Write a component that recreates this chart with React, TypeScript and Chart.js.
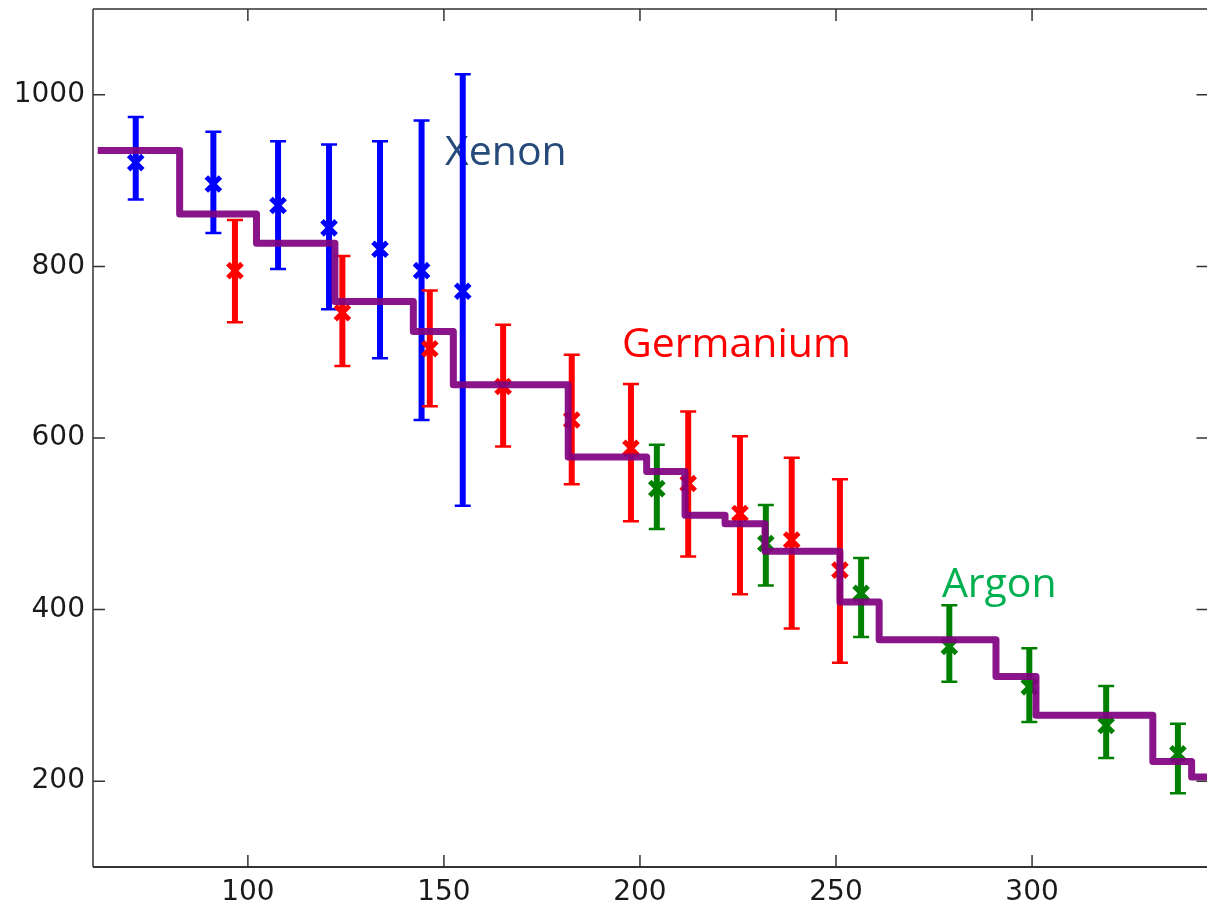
import React, { useEffect, useRef } from 'react';
import { Chart, registerables } from 'chart.js';

Chart.register(...registerables);

// Axis ticks
const xTickValues = [100, 150, 200, 250, 300];
const yTickValues = [200, 400, 600, 800, 1000];

// Xenon
const xenonX = [71.4, 91.2, 107.7, 120.7, 133.7, 144.3, 154.8];
const xenonY = [921, 896, 871, 845, 820, 795, 771];
const xenonLow = [878, 839, 797, 750, 693, 621, 521];
const xenonHigh = [974, 957, 946, 942, 946, 970, 1024];

// Germanium
const germaniumX = [96.7, 124.1, 146.4, 165.1, 182.6, 197.7, 212.3, 225.5, 238.7, 251.0];
const germaniumY = [795, 746, 704, 660, 621, 588, 547, 512, 481, 446];
const germaniumLow = [735, 684, 637, 590, 546, 503, 462, 418, 378, 338];
const germaniumHigh = [854, 812, 772, 732, 697, 663, 631, 602, 577, 552];

// Argon
const argonX = [204.3, 232.1, 256.4, 278.9, 299.3, 318.9, 337.2];
const argonY = [541, 477, 419, 357, 310, 265, 232];
const argonLow = [494, 428, 368, 316, 269, 227, 186];
const argonHigh = [592, 522, 460, 405, 355, 311, 267];

// Step curve: left edge of each level, and the level
const stepEdges = [61.7, 82.6, 102.2, 122.2, 142.2, 152.4, 181.7, 201.7, 211.5, 221.7, 231.9, 251.0, 261.0, 290.8, 301.0, 330.8, 340.7, 345];
const stepLevels = [935, 861, 827, 759, 724, 662, 578, 561, 510, 500, 468, 409, 365, 322, 277, 223, 205, 205];

// Annotations
const noteTexts = ['Xenon', 'Germanium', 'Argon'];
const noteX = [150.3, 195.4, 277.0];
const noteY = [918, 694, 414.6];
const noteColors = ['#264B7A', '#FF0000', '#00B050'];

const BLUE = '#0000FF';
const RED = '#FF0000';
const GREEN = '#008000';

export default function App() {
  const ref = useRef<HTMLCanvasElement>(null);

  useEffect(() => {
    const canvas = ref.current;
    if (!canvas) return;

    const notesPlugin = {
      id: 'notes',
      beforeDatasetsDraw(chart: any) {
        const { ctx, scales } = chart;
        ctx.save();
        ctx.font = '41px "Open Sans"';
        ctx.textAlign = 'left';
        ctx.textBaseline = 'alphabetic';
        noteTexts.forEach((t, i) => {
          ctx.fillStyle = noteColors[i];
          ctx.fillText(t, scales.x.getPixelForValue(noteX[i]), scales.y.getPixelForValue(noteY[i]));
        });
        ctx.restore();
      },
    };

    const errorBarsPlugin = {
      id: 'errorBars',
      beforeDatasetsDraw(chart: any) {
        const { ctx, scales } = chart;
        ctx.save();
        chart.data.datasets.forEach((ds: any) => {
          if (!ds.errLow) return;
          ds.data.forEach((p: any, i: number) => {
            const px = scales.x.getPixelForValue(p.x);
            const lo = scales.y.getPixelForValue(ds.errLow[i]);
            const hi = scales.y.getPixelForValue(ds.errHigh[i]);
            ctx.strokeStyle = ds.borderColor;
            ctx.lineCap = 'butt';
            ctx.lineWidth = 6;
            ctx.beginPath();
            ctx.moveTo(px, hi);
            ctx.lineTo(px, lo);
            ctx.stroke();
            ctx.lineWidth = 2.5;
            ctx.beginPath();
            ctx.moveTo(px - 8, hi);
            ctx.lineTo(px + 8, hi);
            ctx.moveTo(px - 8, lo);
            ctx.lineTo(px + 8, lo);
            ctx.stroke();
          });
        });
        ctx.restore();
      },
    };

    const framePlugin = {
      id: 'frame',
      afterDraw(chart: any) {
        const { ctx, chartArea, scales } = chart;
        const { left, right, top, bottom } = chartArea;
        ctx.save();
        ctx.strokeStyle = '#333333';
        ctx.lineWidth = 1.5;
        ctx.beginPath();
        ctx.moveTo(left, top);
        ctx.lineTo(left, bottom);
        ctx.moveTo(left, top);
        ctx.lineTo(right, top);
        ctx.moveTo(right, top);
        ctx.lineTo(right, bottom);
        ctx.stroke();
        ctx.lineWidth = 2.2;
        ctx.beginPath();
        ctx.moveTo(left, bottom);
        ctx.lineTo(right, bottom);
        ctx.stroke();
        ctx.lineWidth = 1.5;
        ctx.beginPath();
        xTickValues.forEach((v) => {
          const px = scales.x.getPixelForValue(v);
          ctx.moveTo(px, bottom);
          ctx.lineTo(px, bottom - 12);
          ctx.moveTo(px, top);
          ctx.lineTo(px, top + 12);
        });
        yTickValues.forEach((v) => {
          const py = scales.y.getPixelForValue(v);
          ctx.moveTo(left, py);
          ctx.lineTo(left + 12, py);
          ctx.moveTo(right, py);
          ctx.lineTo(right - 12, py);
        });
        ctx.stroke();
        ctx.restore();
      },
    };

    const mk = (xs: number[], ys: number[]) => xs.map((x, i) => ({ x, y: ys[i] }));

    const pointStyleFor = (color: string) => ({
      pointStyle: 'crossRot',
      pointRadius: 10,
      pointBorderWidth: 5,
      borderColor: color,
      backgroundColor: color,
      pointHoverRadius: 10,
      showLine: false,
    });

    const chart = new Chart(canvas, {
      type: 'scatter',
      data: {
        datasets: [
          {
            type: 'line',
            label: 'fit',
            data: mk(stepEdges, stepLevels),
            stepped: 'before',
            borderColor: 'rgba(128,0,128,0.92)',
            backgroundColor: 'rgba(128,0,128,0.92)',
            borderWidth: 7,
            borderJoinStyle: 'round',
            pointRadius: 0,
            fill: false,
          } as any,
          { label: 'Xenon', data: mk(xenonX, xenonY), errLow: xenonLow, errHigh: xenonHigh, ...pointStyleFor(BLUE) } as any,
          { label: 'Germanium', data: mk(germaniumX, germaniumY), errLow: germaniumLow, errHigh: germaniumHigh, ...pointStyleFor(RED) } as any,
          { label: 'Argon', data: mk(argonX, argonY), errLow: argonLow, errHigh: argonHigh, ...pointStyleFor(GREEN) } as any,
        ],
      },
      options: {
        responsive: false,
        animation: false,
        devicePixelRatio: 1,
        layout: { autoPadding: false, padding: { top: 9, right: 1.5, left: 0, bottom: 0 } },
        plugins: {
          legend: { display: false },
          tooltip: { enabled: false },
        },
        scales: {
          x: {
            type: 'linear',
            min: 60.5,
            max: 345,
            grid: { display: false, drawTicks: false },
            border: { display: false },
            afterBuildTicks: (s: any) => {
              s.ticks = xTickValues.map((v) => ({ value: v }));
            },
            afterFit: (s: any) => {
              s.height = 39;
              s.paddingLeft = 0;
              s.paddingRight = 0;
            },
            ticks: {
              autoSkip: false,
              maxRotation: 0,
              padding: 9,
              color: '#1a1a1a',
              font: { family: '"DejaVu Sans"', size: 28 },
              callback: (v: any) => String(v),
            },
          },
          y: {
            type: 'linear',
            min: 100,
            max: 1100,
            grid: { display: false, drawTicks: false },
            border: { display: false },
            afterBuildTicks: (s: any) => {
              s.ticks = yTickValues.map((v) => ({ value: v }));
            },
            afterFit: (s: any) => {
              s.width = 93;
              s.paddingTop = 0;
              s.paddingBottom = 0;
            },
            ticks: {
              autoSkip: false,
              padding: 8,
              color: '#1a1a1a',
              font: { family: '"DejaVu Sans"', size: 28 },
              callback: (v: any) => String(v),
            },
          },
        },
      } as any,
      plugins: [notesPlugin, errorBarsPlugin, framePlugin],
    });

    return () => chart.destroy();
  }, []);

  return (
    <div
      style={{
        position: 'fixed',
        left: 0,
        top: 0,
        width: 1207,
        height: 906,
        overflow: 'hidden',
        background: '#ffffff',
      }}
    >
      <canvas ref={ref} width={1210} height={906} style={{ display: 'block', width: 1210, height: 906 }} />
    </div>
  );
}
